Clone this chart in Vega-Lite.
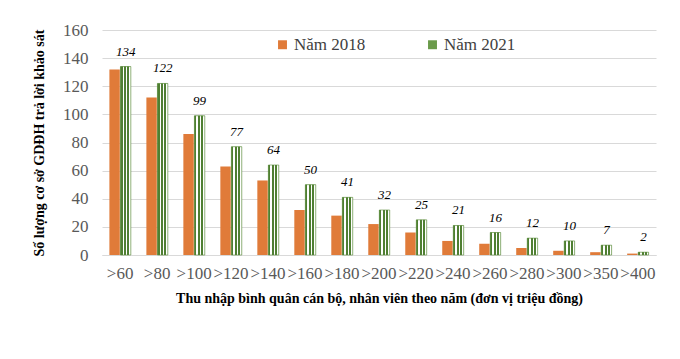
{
  "$schema": "https://vega.github.io/schema/vega-lite/v6.json",
  "width": 554,
  "height": 225,
  "autosize": {"type": "none"},
  "padding": {"left": 102, "top": 30, "right": 24, "bottom": 104},
  "background": "white",
  "config": {
    "view": {"stroke": null},
    "font": "Liberation Serif, Times New Roman, serif",
    "axis": {"labelFont": "Liberation Serif, Times New Roman, serif", "titleFont": "Liberation Serif, Times New Roman, serif"},
    "legend": {"labelFont": "Liberation Serif, Times New Roman, serif"},
    "text": {"font": "Liberation Serif, Times New Roman, serif"}
  },
  "data": {
    "values": [
      {"cat": ">60", "year": "Năm 2018", "v": 132}, {"cat": ">60", "year": "Năm 2021", "v": 134},
      {"cat": ">80", "year": "Năm 2018", "v": 112}, {"cat": ">80", "year": "Năm 2021", "v": 122},
      {"cat": ">100", "year": "Năm 2018", "v": 86}, {"cat": ">100", "year": "Năm 2021", "v": 99},
      {"cat": ">120", "year": "Năm 2018", "v": 63}, {"cat": ">120", "year": "Năm 2021", "v": 77},
      {"cat": ">140", "year": "Năm 2018", "v": 53}, {"cat": ">140", "year": "Năm 2021", "v": 64},
      {"cat": ">160", "year": "Năm 2018", "v": 32}, {"cat": ">160", "year": "Năm 2021", "v": 50},
      {"cat": ">180", "year": "Năm 2018", "v": 28}, {"cat": ">180", "year": "Năm 2021", "v": 41},
      {"cat": ">200", "year": "Năm 2018", "v": 22}, {"cat": ">200", "year": "Năm 2021", "v": 32},
      {"cat": ">220", "year": "Năm 2018", "v": 16}, {"cat": ">220", "year": "Năm 2021", "v": 25},
      {"cat": ">240", "year": "Năm 2018", "v": 10}, {"cat": ">240", "year": "Năm 2021", "v": 21},
      {"cat": ">260", "year": "Năm 2018", "v": 8}, {"cat": ">260", "year": "Năm 2021", "v": 16},
      {"cat": ">280", "year": "Năm 2018", "v": 5}, {"cat": ">280", "year": "Năm 2021", "v": 12},
      {"cat": ">300", "year": "Năm 2018", "v": 3}, {"cat": ">300", "year": "Năm 2021", "v": 10},
      {"cat": ">350", "year": "Năm 2018", "v": 2}, {"cat": ">350", "year": "Năm 2021", "v": 7},
      {"cat": ">400", "year": "Năm 2018", "v": 1}, {"cat": ">400", "year": "Năm 2021", "v": 2}
    ]
  },
  "encoding": {
    "x": {
      "field": "cat", "type": "nominal", "sort": null,
      "scale": {"paddingInner": 0.42},
      "axis": {
        "title": "Thu nhập bình quân cán bộ, nhân viên theo năm (đơn vị triệu đồng)",
        "labelAngle": 0, "labelFontSize": 17, "labelColor": "#595959", "labelPadding": 10,
        "ticks": false, "domainColor": "#d9d9d9",
        "titleFontSize": 14, "titleFontWeight": "bold", "titleColor": "#000000", "titlePadding": 10
      }
    },
    "xOffset": {"field": "year", "type": "nominal", "scale": {"paddingInner": 0.06}},
    "y": {
      "field": "v", "type": "quantitative",
      "scale": {"domain": [0, 160], "nice": false},
      "axis": {
        "title": "Số lượng cơ sở GDĐH trả lời khảo sát",
        "values": [0, 20, 40, 60, 80, 100, 120, 140, 160],
        "labelFontSize": 17, "labelColor": "#595959", "labelPadding": 14,
        "ticks": false, "domain": false, "gridColor": "#d9d9d9",
        "titleFontSize": 14, "titleFontWeight": "bold", "titleColor": "#000000", "titlePadding": 16
      }
    }
  },
  "layer": [
    {
      "mark": {"type": "bar"},
      "encoding": {
        "color": {
          "field": "year", "type": "nominal",
          "scale": {"domain": ["Năm 2018", "Năm 2021"], "range": ["#E07B39", "#6A9A4A"]},
          "legend": {
            "title": null, "orient": "none", "direction": "horizontal",
            "legendX": 172, "legendY": 6,
            "symbolType": "square", "symbolSize": 80,
            "labelFontSize": 17, "labelColor": "#404040",
            "columnPadding": 58, "labelOffset": 3
          }
        }
      }
    },
    {
      "transform": [{"filter": "datum.year === 'Năm 2021'"}],
      "mark": {
        "type": "bar",
        "stroke": "#5B8C3A", "strokeWidth": 0.6,
        "fill": {
          "gradient": "linear", "x1": 0, "y1": 0, "x2": 1, "y2": 0,
          "stops": [
            {"offset": 0, "color": "#4F7F32"}, {"offset": 0.2, "color": "#4F7F32"},
            {"offset": 0.2, "color": "#ffffff"}, {"offset": 0.33, "color": "#ffffff"},
            {"offset": 0.33, "color": "#4F7F32"}, {"offset": 0.53, "color": "#4F7F32"},
            {"offset": 0.53, "color": "#ffffff"}, {"offset": 0.66, "color": "#ffffff"},
            {"offset": 0.66, "color": "#4F7F32"}, {"offset": 0.86, "color": "#4F7F32"},
            {"offset": 0.86, "color": "#ffffff"}, {"offset": 1, "color": "#ffffff"}
          ]
        }
      }
    },
    {
      "transform": [{"filter": "datum.year === 'Năm 2021'"}],
      "mark": {"type": "text", "fontStyle": "italic", "fontSize": 13, "dy": -8, "baseline": "bottom", "color": "#000000"},
      "encoding": {"text": {"field": "v", "type": "quantitative"}}
    }
  ]
}
